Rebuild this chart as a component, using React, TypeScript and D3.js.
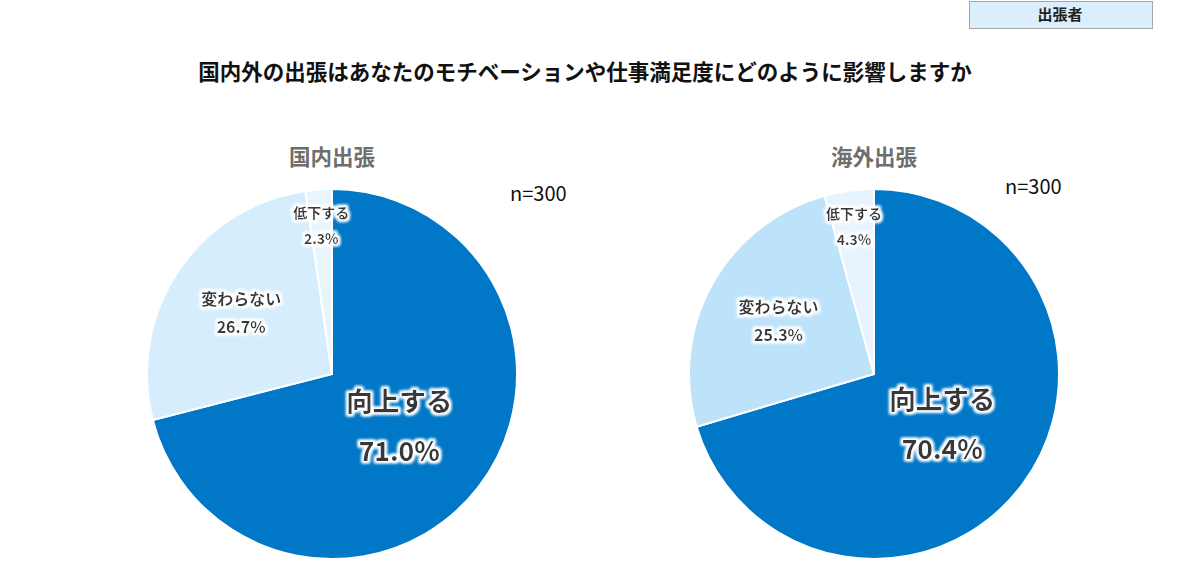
import React, { useRef, useEffect } from "react";
import * as d3 from "d3";

// Survey data (n=300 each)
const categories = ["向上する", "変わらない", "低下する"];
const domesticValues = [71.0, 26.7, 2.3];
const overseasValues = [70.4, 25.3, 4.3];
const pieTitles = ["国内出張", "海外出張"];
const sampleLabel = "n=300";
const chartTitle = "国内外の出張はあなたのモチベーションや仕事満足度にどのように影響しますか";
const legendLabel = "出張者";

const domesticColors = ["#0077c7", "#d5edfc", "#e9f5fd"];
const overseasColors = ["#0077c7", "#bde3fa", "#e8f4fd"];

const WIDTH = 1200;
const HEIGHT = 573;
const FONT = "'Noto Sans CJK JP', 'Noto Sans', sans-serif";

export default function App() {
  const svgRef = useRef<SVGSVGElement>(null);

  useEffect(() => {
    if (!svgRef.current) return;
    const svg = d3.select(svgRef.current);
    svg.selectAll("*").remove();

    // white glow behind labels
    const defs = svg.append("defs");
    const glow = defs.append("filter").attr("id", "glow")
      .attr("x", "-20%").attr("y", "-30%").attr("width", "140%").attr("height", "160%");
    glow.append("feMorphology").attr("in", "SourceAlpha").attr("operator", "dilate").attr("radius", 1.5).attr("result", "d");
    glow.append("feGaussianBlur").attr("in", "d").attr("stdDeviation", 1.5).attr("result", "b");
    glow.append("feFlood").attr("flood-color", "#ffffff");
    glow.append("feComposite").attr("in2", "b").attr("operator", "in").attr("result", "w");
    const merge = glow.append("feMerge");
    merge.append("feMergeNode").attr("in", "w");
    merge.append("feMergeNode").attr("in", "w");
    merge.append("feMergeNode").attr("in", "SourceGraphic");

    // legend box, top right
    svg.append("rect")
      .attr("x", 969.5).attr("y", 1.5).attr("width", 183).attr("height", 27)
      .attr("fill", "#daeefb").attr("stroke", "#a6a6a6").attr("stroke-width", 1);
    svg.append("text")
      .attr("x", 1060).attr("y", 20)
      .attr("text-anchor", "middle")
      .attr("font-size", 15).attr("font-weight", "bold").attr("fill", "#222")
      .text(legendLabel);

    svg.append("text")
      .attr("x", 585).attr("y", 80)
      .attr("text-anchor", "middle")
      .attr("font-size", 21.5).attr("font-weight", "bold").attr("fill", "#111")
      .text(chartTitle);

    const radius = 185;
    const pie = d3.pie<number>().sort(null).value(d => d);
    const arc = d3.arc<d3.PieArcDatum<number>>().innerRadius(0).outerRadius(radius);

    const pies = [
      { cx: 332, values: domesticValues, colors: domesticColors, nx: 510, ny: 201 },
      { cx: 874, values: overseasValues, colors: overseasColors, nx: 1005, ny: 194 },
    ];
    const labelRadius = [0.46, 0.59, 0.8];
    const nameSize = [26.5, 16, 14];
    const lineGap = [50, 28, 26];

    pies.forEach((p, pi) => {
      const cy = 374;
      svg.append("text")
        .attr("x", p.cx).attr("y", 165)
        .attr("text-anchor", "middle")
        .attr("font-size", 21.5).attr("font-weight", "bold").attr("fill", "#6e6e6e")
        .text(pieTitles[pi]);
      svg.append("text")
        .attr("x", p.nx).attr("y", p.ny)
        .attr("font-size", 20).attr("fill", "#111")
        .text(sampleLabel);

      const g = svg.append("g").attr("transform", `translate(${p.cx},${cy})`);
      const arcs = pie(p.values);
      g.selectAll("path")
        .data(arcs)
        .enter()
        .append("path")
        .attr("d", arc)
        .attr("fill", (_, i) => p.colors[i])
        .attr("stroke", "#ffffff")
        .attr("stroke-width", 2);

      arcs.forEach((a, i) => {
        const mid = (a.startAngle + a.endAngle) / 2;
        const r = radius * labelRadius[i];
        const x = r * Math.sin(mid);
        const y = -r * Math.cos(mid);
        const lg = g.append("g")
          .attr("transform", `translate(${x},${y})`)
          .attr("filter", "url(#glow)")
          .attr("font-weight", "bold").attr("fill", "#383838")
          .attr("text-anchor", "middle");
        lg.append("text")
          .attr("y", -lineGap[i] / 2 + nameSize[i] * 0.36)
          .attr("font-size", nameSize[i])
          .text(categories[i]);
        lg.append("text")
          .attr("y", lineGap[i] / 2 + nameSize[i] * 0.36)
          .attr("font-size", nameSize[i])
          .text(`${a.data.toFixed(1)}%`);
      });
    });
  }, []);

  return (
    <svg
      ref={svgRef}
      width={WIDTH}
      height={HEIGHT}
      style={{ position: "absolute", left: 0, top: 0, display: "block", fontFamily: FONT, background: "#fff" }}
    />
  );
}
